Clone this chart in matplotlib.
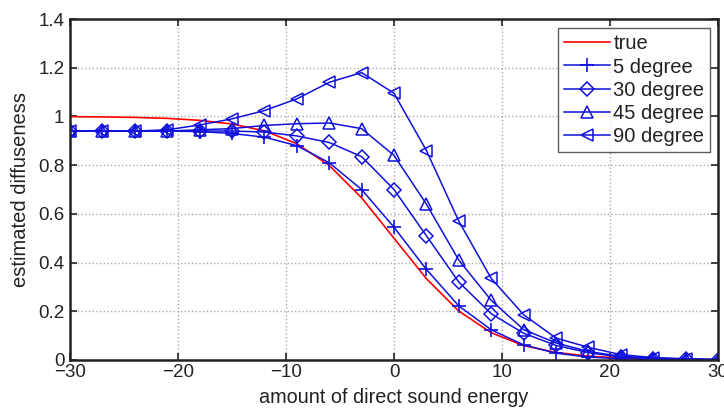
import matplotlib
matplotlib.use("Agg")
import matplotlib.pyplot as plt

plt.rcParams['font.family'] = ['Liberation Sans', 'DejaVu Sans']

x = [-30, -27, -24, -21, -18, -15, -12, -9, -6, -3, 0, 3, 6, 9, 12, 15, 18, 21, 24, 27, 30]
true_vals = [0.999, 0.998, 0.996, 0.992, 0.984, 0.969, 0.941, 0.888, 0.799, 0.666, 0.5,
             0.334, 0.201, 0.112, 0.059, 0.031, 0.016, 0.008, 0.004, 0.002, 0.001]
deg5 = [0.94, 0.94, 0.94, 0.94, 0.938, 0.93, 0.915, 0.88, 0.81, 0.70, 0.545,
        0.372, 0.222, 0.124, 0.062, 0.028, 0.012, 0.005, 0.002, 0.001, 0.0]
deg30 = [0.94, 0.94, 0.94, 0.94, 0.94, 0.94, 0.936, 0.92, 0.893, 0.835, 0.70,
         0.51, 0.32, 0.19, 0.11, 0.06, 0.03, 0.012, 0.006, 0.003, 0.001]
deg45 = [0.94, 0.94, 0.94, 0.94, 0.945, 0.95, 0.963, 0.97, 0.973, 0.95, 0.84,
         0.64, 0.41, 0.245, 0.125, 0.07, 0.035, 0.015, 0.008, 0.004, 0.002]
deg90 = [0.94, 0.94, 0.94, 0.945, 0.965, 0.99, 1.024, 1.072, 1.14, 1.18, 1.095,
         0.86, 0.57, 0.335, 0.186, 0.09, 0.052, 0.022, 0.01, 0.005, 0.002]

labels = ["true", "5 degree", "30 degree", "45 degree", "90 degree"]
xticks = [-30, -20, -10, 0, 10, 20, 30]
yticks = [0, 0.2, 0.4, 0.6, 0.8, 1.0, 1.2, 1.4]
yticklabels = ["0", "0.2", "0.4", "0.6", "0.8", "1", "1.2", "1.4"]

fig = plt.figure(figsize=(7.24, 4.09), dpi=100)
ax = fig.add_axes([70/724, 49/409, 648/724, 341/409])

blue = "#1010dd"
txt = "#222222"
ax.plot(x, true_vals, color="red", lw=1.2, label=labels[0])
ax.plot(x, deg5, color=blue, lw=1.1, marker="+", ms=10, mew=1.2, label=labels[1])
ax.plot(x, deg30, color=blue, lw=1.1, marker="D", ms=7, mfc="none", mew=1.1, label=labels[2])
ax.plot(x, deg45, color=blue, lw=1.1, marker="^", ms=9, mfc="none", mew=1.1, label=labels[3])
ax.plot(x, deg90, color=blue, lw=1.1, marker="<", ms=9, mfc="none", mew=1.1, label=labels[4])

ax.set_xlim(-30, 30)
ax.set_ylim(0, 1.4)
ax.set_xticks(xticks)
ax.set_yticks(yticks)
ax.set_yticklabels(yticklabels)
ax.tick_params(direction="in", length=5, width=1.2, labelsize=13.5, top=True, right=True,
               labeltop=False, labelright=False, pad=3, colors=txt)
ax.tick_params(axis="y", pad=4)
for s in ax.spines.values():
    s.set_linewidth(1.8)
    s.set_color(txt)
ax.grid(True, linestyle=":", color="#aaaaaa", lw=1.0)
ax.set_xlabel("amount of direct sound energy", fontsize=14.3, labelpad=5, color=txt)
ax.set_ylabel("estimated diffuseness", fontsize=14.5, labelpad=6, color=txt)

leg = ax.legend(loc="upper right", bbox_to_anchor=(0.9975, 0.99), fontsize=14.5, frameon=True,
                fancybox=False, edgecolor="#333333", handlelength=2.3, handletextpad=0.15,
                borderpad=0.3, labelspacing=0.2, borderaxespad=0.3)
for t in leg.get_texts():
    t.set_color(txt)
leg.get_frame().set_linewidth(1.0)

fig.savefig("out.png", dpi=100)
